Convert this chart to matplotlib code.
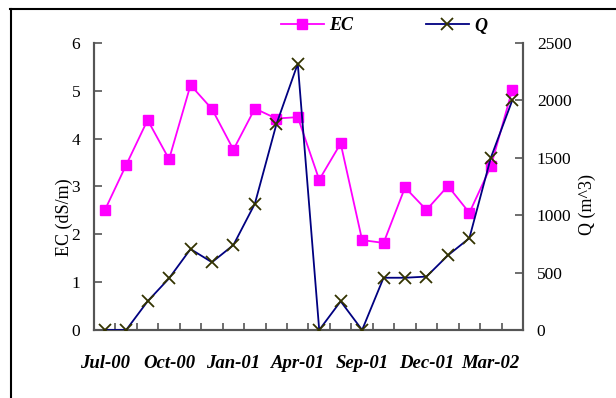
import matplotlib
matplotlib.use("Agg")
import matplotlib.pyplot as plt
from matplotlib.lines import Line2D
import numpy as np

# monthly samples, Jul-00 .. Mar-02 (20 points)
months = ["Jul-00", "", "", "Oct-00", "", "", "Jan-01", "", "", "Apr-01",
          "", "", "Sep-01", "", "", "Dec-01", "", "", "Mar-02", ""]
ec = [2.50, 3.45, 4.39, 3.57, 5.12, 4.62, 3.77, 4.63, 4.42, 4.45,
      3.14, 3.90, 1.88, 1.82, 2.98, 2.51, 3.01, 2.45, 3.42, 5.02]
q = [0, 0, 250, 450, 705, 590, 740, 1100, 1790, 2320,
     0, 250, 0, 455, 455, 465, 650, 800, 1500, 2000]

plt.rcParams["font.family"] = "Liberation Serif"

fig = plt.figure(figsize=(6.16, 3.98), dpi=100)
ax = fig.add_axes([0.1526, 0.1709, 0.6964, 0.7211])
ax2 = ax.twinx()

x = np.arange(len(months))
spine_col = "#555555"

ax.plot(x, ec, color="#FF00FF", marker="s", markersize=7, linewidth=1.3,
        zorder=3)
ax2.plot(x, q, color="#000080", marker="x", markersize=9, markeredgewidth=1.3,
         markeredgecolor="#333300", linewidth=1.3, zorder=3)

ax.set_xlim(-0.5, len(months) - 0.5)
ax.set_ylim(0, 6)
ax2.set_ylim(0, 2500)
ax.set_yticks(range(0, 7))
ax2.set_yticks(range(0, 2501, 500))

lab_idx = [i for i, m in enumerate(months) if m]
ax.set_xticks(lab_idx)
ax.set_xticklabels([months[i] for i in lab_idx], fontsize=13.5,
                   fontweight="bold", fontstyle="italic")
ax.set_xticks(np.arange(-0.5, len(months)), minor=True)
ax.tick_params(axis="x", which="major", length=0, pad=18)
ax.tick_params(axis="x", which="minor", direction="in", length=5,
               color=spine_col, width=1.2)
ax.tick_params(axis="y", direction="in", length=6, color=spine_col,
               width=1.2, labelsize=12.5, pad=10)
ax2.tick_params(axis="y", direction="in", length=6, color=spine_col,
                width=1.2, labelsize=12.5, pad=10)

for a in (ax, ax2):
    a.spines["top"].set_visible(False)
    for s in ("left", "right", "bottom"):
        a.spines[s].set_color(spine_col)
        a.spines[s].set_linewidth(1.5)

fig.text(64 / 616, 1 - 217 / 398, "EC (dS/m)", rotation=90, fontsize=13,
         ha="center", va="center")
fig.text(587 / 616, 1 - 205 / 398, "Q (m^3)", rotation=90, fontsize=13,
         ha="center", va="center")

handles = [
    Line2D([], [], color="#FF00FF", marker="s", markersize=7, linewidth=1.3),
    Line2D([], [], color="#000080", marker="x", markersize=9,
           markeredgewidth=1.3, markeredgecolor="#333300", linewidth=1.3),
]
fig.legend(handles, ["EC", "Q"], loc="center", ncol=2,
           bbox_to_anchor=(384 / 616, 1 - 26 / 398), frameon=False,
           numpoints=1, handlelength=2.4, handletextpad=0.3,
           columnspacing=4.0,
           prop={"size": 13, "weight": "bold", "style": "italic"})

# outer frame of the original figure
fig.add_artist(Line2D([10 / 616, 1.0], [1 - 9 / 398, 1 - 9 / 398],
                      color="black", linewidth=1.5, transform=fig.transFigure))
fig.add_artist(Line2D([11 / 616, 11 / 616], [0, 1 - 9 / 398],
                      color="black", linewidth=1.5, transform=fig.transFigure))

fig.savefig("out.png", dpi=100)
